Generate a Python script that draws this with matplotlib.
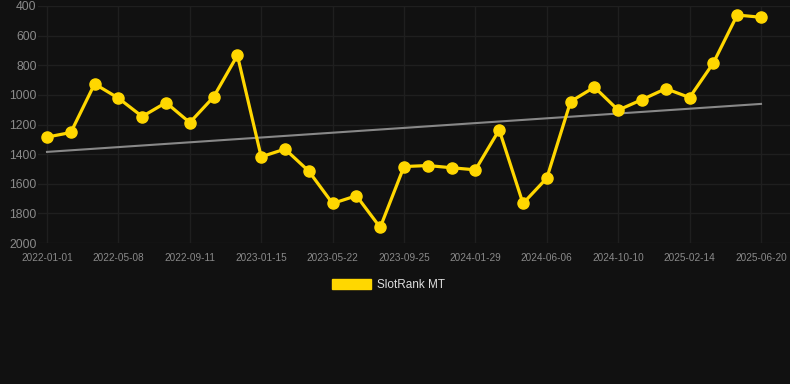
import matplotlib
matplotlib.use("Agg")
import matplotlib.pyplot as plt
from matplotlib.patches import Patch

tick_labels = ["2022-01-01", "2022-05-08", "2022-09-11", "2023-01-15", "2023-05-22",
               "2023-09-25", "2024-01-29", "2024-06-06", "2024-10-10", "2025-02-14",
               "2025-06-20"]
ranks = [1285, 1254, 926, 1022, 1146, 1052, 1187, 1014, 733, 1418,
         1366, 1515, 1733, 1681, 1895, 1484, 1477, 1492, 1506, 1236,
         1733, 1562, 1045, 948, 1103, 1032, 958, 1018, 784, 461, 476]
trend_start, trend_end = 1385, 1061
series_name = "SlotRank MT"

plt.rcParams['font.family'] = ['Liberation Sans', 'DejaVu Sans']
bg = "#111111"
fig = plt.figure(figsize=(7.9, 3.84), dpi=100, facecolor=bg)
W, H = 790, 384
left, right, top, bottom = 38, 790, 6, 243
ax = fig.add_axes([left / W, 1 - bottom / H, (right - left) / W, (bottom - top) / H])
ax.set_facecolor(bg)

x = list(range(len(ranks)))
ax.plot([x[0], x[-1]], [trend_start, trend_end], color="#888888", lw=1.5, zorder=2)
ax.plot(x, ranks, color="#FFD700", lw=2.3, marker="o", markersize=8, zorder=3)

step = 23.8
ax.set_xlim(-(47 - left) / step, 30 + (right - 761) / step)
ax.set_ylim(2000, 400)
ax.set_xticks(x[::3])
ax.set_xticklabels(tick_labels)
ax.set_yticks([400, 600, 800, 1000, 1200, 1400, 1600, 1800, 2000])
ax.grid(True, color="#1f1f1f", lw=1.0, zorder=0)
for s in ax.spines.values():
    s.set_visible(False)
ax.tick_params(axis="x", colors="#8a8a8a", labelsize=7.2, length=0, pad=7)
ax.tick_params(axis="y", colors="#8a8a8a", labelsize=8.7, length=0, pad=1)

handle = Patch(facecolor="#FFD700", edgecolor="#FFD700")
fig.legend([handle], [series_name], loc="center", bbox_to_anchor=(0.492, 1 - 285 / H),
           frameon=False, fontsize=8.5, labelcolor="#dddddd",
           handlelength=3.3, handleheight=1.0, handletextpad=0.5)

fig.savefig("out.png", dpi=100, facecolor=bg)
